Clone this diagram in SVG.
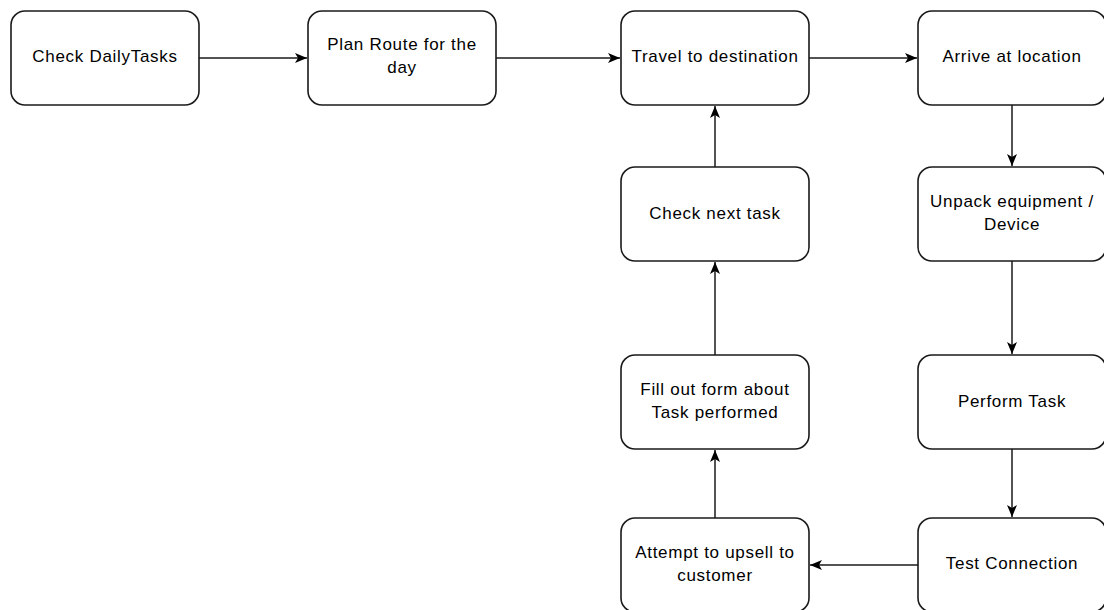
<svg xmlns="http://www.w3.org/2000/svg" width="1104" height="610" viewBox="0 0 1104 610">
<style>
.node rect{fill:#fff;stroke:#1a1a1a;stroke-width:1.6}
.node text{font-family:"Liberation Sans",Arial,sans-serif;font-size:17px;letter-spacing:0.7px;fill:#000;text-anchor:middle}
.edge{stroke:#1a1a1a;stroke-width:1.5;fill:none;marker-end:url(#ah)}
</style>
<defs>
<marker id="ah" viewBox="0 0 12 10" refX="12" refY="5" markerWidth="12" markerHeight="10" markerUnits="userSpaceOnUse" orient="auto">
<path d="M0,0 L12,5 L0,10 L3,5 Z" fill="#000"/>
</marker>
</defs>
<rect width="1104" height="610" fill="#fff"/>
<g id="connectors">
<path class="edge" d="M199,58 H307"/>
<path class="edge" d="M496,58 H620"/>
<path class="edge" d="M809,58 H917"/>
<path class="edge" d="M1012,105 V166"/>
<path class="edge" d="M1012,261 V354"/>
<path class="edge" d="M1012,449 V517"/>
<path class="edge" d="M918,565 H810"/>
<path class="edge" d="M715,518 V450"/>
<path class="edge" d="M715,355 V262"/>
<path class="edge" d="M715,167 V106"/>
</g>
<g id="n1" class="node"><rect x="11" y="11" width="188" height="94" rx="14"/><text x="105" y="62">Check DailyTasks</text></g>
<g id="n2" class="node"><rect x="308" y="11" width="188" height="94" rx="14"/><text x="402" y="50">Plan Route for the</text><text x="402" y="73">day</text></g>
<g id="n3" class="node"><rect x="621" y="11" width="188" height="94" rx="14"/><text x="715" y="62">Travel to destination</text></g>
<g id="n4" class="node"><rect x="918" y="11" width="188" height="94" rx="14"/><text x="1012" y="62">Arrive at location</text></g>
<g id="n5" class="node"><rect x="918" y="167" width="188" height="94" rx="14"/><text x="1012" y="207">Unpack equipment /</text><text x="1012" y="230">Device</text></g>
<g id="n6" class="node"><rect x="918" y="355" width="188" height="94" rx="14"/><text x="1012" y="407">Perform Task</text></g>
<g id="n7" class="node"><rect x="918" y="518" width="188" height="94" rx="14"/><text x="1012" y="569">Test Connection</text></g>
<g id="n8" class="node"><rect x="621" y="518" width="188" height="94" rx="14"/><text x="715" y="558">Attempt to upsell to</text><text x="715" y="581">customer</text></g>
<g id="n9" class="node"><rect x="621" y="355" width="188" height="94" rx="14"/><text x="715" y="395">Fill out form about</text><text x="715" y="418">Task performed</text></g>
<g id="n10" class="node"><rect x="621" y="167" width="188" height="94" rx="14"/><text x="715" y="219">Check next task</text></g>
</svg>
